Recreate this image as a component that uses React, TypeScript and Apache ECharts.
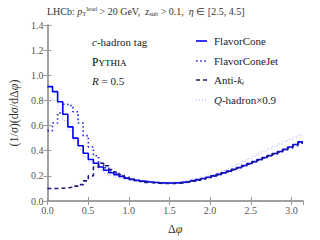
import React, { useEffect, useRef } from "react";
import * as echarts from "echarts";

const NBINS = 50;
const flavorCone = [0.91,0.87,0.79,0.69,0.59,0.50,0.44,0.38,0.33,0.30,0.27,0.245,0.225,0.21,0.195,0.182,0.172,0.164,0.158,0.153,0.149,0.146,0.144,0.143,0.144,0.146,0.150,0.155,0.162,0.170,0.179,0.189,0.200,0.212,0.225,0.238,0.252,0.267,0.282,0.298,0.314,0.330,0.346,0.362,0.378,0.394,0.412,0.43,0.45,0.47];
const flavorConeJet = [0.56,0.62,0.70,0.77,0.76,0.71,0.62,0.52,0.43,0.36,0.30,0.265,0.24,0.22,0.20,0.185,0.174,0.165,0.158,0.152,0.148,0.145,0.143,0.142,0.143,0.145,0.148,0.153,0.160,0.168,0.177,0.187,0.198,0.210,0.222,0.235,0.249,0.264,0.279,0.295,0.311,0.327,0.343,0.359,0.375,0.391,0.408,0.426,0.446,0.466];
const antiKt = [0.10,0.10,0.102,0.105,0.11,0.118,0.13,0.16,0.20,0.27,0.30,0.28,0.25,0.23,0.21,0.19,0.175,0.163,0.155,0.148,0.144,0.141,0.139,0.139,0.14,0.142,0.146,0.151,0.158,0.166,0.175,0.185,0.196,0.208,0.22,0.233,0.247,0.262,0.277,0.293,0.309,0.325,0.341,0.357,0.373,0.389,0.405,0.422,0.44,0.46];
const qHadron = [0.82,0.80,0.73,0.64,0.56,0.48,0.41,0.35,0.31,0.27,0.245,0.22,0.20,0.188,0.177,0.168,0.162,0.157,0.153,0.150,0.150,0.149,0.149,0.150,0.152,0.155,0.159,0.165,0.172,0.180,0.190,0.200,0.212,0.226,0.242,0.260,0.278,0.297,0.316,0.336,0.356,0.376,0.396,0.416,0.436,0.455,0.473,0.49,0.508,0.525];
const xTicks = [0, 0.5, 1.0, 1.5, 2.0, 2.5, 3.0];

const FONT = "Liberation Serif";

function histData(vals: number[]) {
  const w = Math.PI / NBINS;
  const pts: number[][] = vals.map((v, i) => [i * w, v]);
  pts.push([Math.PI, vals[vals.length - 1]]);
  return pts;
}

export default function App() {
  const ref = useRef<HTMLDivElement>(null);
  useEffect(() => {
    if (!ref.current) return;
    const chart = echarts.init(ref.current, undefined, { renderer: "svg" });
    const axisLine = { show: true, lineStyle: { color: "#9a9a9a", width: 1.5 } };
    const tick = { show: true, inside: true, length: 4, lineStyle: { color: "#9a9a9a", width: 1 } };
    const lblStyle = { fontFamily: FONT, fontSize: 10, color: "#555" };
    const series: any[] = [
      { name: "FlavorCone", data: histData(flavorCone), color: "#0000ff", lineStyle: { width: 1.6, type: "solid" } },
      { name: "FlavorConeJet", data: histData(flavorConeJet), color: "#2424e0", lineStyle: { width: 1.6, type: [1.6, 2.6] } },
      { name: "Anti-kt", data: histData(antiKt), color: "#1c1c80", lineStyle: { width: 1.6, type: [4, 3] } },
      { name: "Q-hadron", data: histData(qHadron), color: "#a8a8ff", lineStyle: { width: 1, type: [1, 2] } },
    ].map((s) => ({ ...s, type: "line", step: "end", symbol: "none", showSymbol: false, z: 3 }));
    series.unshift(series.splice(3, 1)[0]);

    const legendRows = [
      { y: 41, color: "#0000ff", type: "solid", w: 1.6, text: "FlavorCone" },
      { y: 61, color: "#2424e0", type: [1.6, 2.6], w: 1.6, text: "FlavorConeJet" },
      { y: 80, color: "#1c1c80", type: [4, 3], w: 1.6, text: "Anti-{i|k}{sub|t}" },
      { y: 100, color: "#a8a8ff", type: [1, 2], w: 1, text: "{i|Q}-hadron×0.9" },
    ];
    const rich = {
      i: { fontFamily: FONT, fontStyle: "italic", fontSize: 11, color: "#222" },
      sub: { fontFamily: FONT, fontStyle: "italic", fontSize: 7, color: "#222", padding: [6, 0, 0, 0] },
    };
    const graphic: any[] = [];
    legendRows.forEach((r) => {
      graphic.push({ type: "line", shape: { x1: 196, y1: r.y, x2: 207, y2: r.y }, style: { stroke: r.color, lineWidth: r.w, lineDash: r.type === "solid" ? null : r.type } });
      graphic.push({ type: "text", x: 214, y: r.y, style: { text: r.text, rich, fontFamily: FONT, fontSize: 11, fill: "#222", verticalAlign: "middle", align: "left" } });
    });
    graphic.push({ type: "text", x: 92, y: 42, style: { text: "{i|c}-hadron tag", rich, fontFamily: FONT, fontSize: 11, fill: "#222", verticalAlign: "middle" } });
    graphic.push({ type: "text", x: 92, y: 62, style: { text: "{b|P}{s|YTHIA}", rich: { b: { fontFamily: FONT, fontSize: 11.5, color: "#222" }, s: { fontFamily: FONT, fontSize: 9, color: "#222", padding: [2, 0, 0, 0] } }, verticalAlign: "middle" } });
    graphic.push({ type: "text", x: 92, y: 81, style: { text: "{i|R} = 0.5", rich, fontFamily: FONT, fontSize: 11, fill: "#222", verticalAlign: "middle" } });
    graphic.push({
      type: "text", x: 47, y: 11,
      style: {
        text: "LHCb: {i|p}{sb|T}{sp|lead} > 20 GeV,  {i|z}{sb|sub} > 0.1,  {i|η} ∈ [2.5, 4.5]",
        rich: {
          i: { fontFamily: FONT, fontStyle: "italic", fontSize: 10, color: "#333" },
          sb: { fontFamily: FONT, fontSize: 6.5, color: "#333", padding: [5, 0, 0, 0] },
          sp: { fontFamily: FONT, fontSize: 6.5, color: "#333", padding: [0, 0, 6, 0] },
        },
        fontFamily: FONT, fontSize: 10, fill: "#333", verticalAlign: "middle",
      },
    });

    const xBase = {
      type: "value", min: 0, max: Math.PI, interval: 0.5,
      axisLine, axisTick: tick, splitLine: { show: false },
    };
    const yBase = {
      type: "value", min: 0, max: 1.4, interval: 0.2,
      axisLine, axisTick: tick, splitLine: { show: false },
    };
    chart.setOption({
      animation: false,
      grid: { left: 47, right: 17, top: 25, bottom: 37 },
      xAxis: [
        {
          ...xBase, position: "bottom",
          axisLabel: { ...lblStyle, margin: 4, showMaxLabel: false, formatter: (v: number) => (xTicks.some((t) => Math.abs(t - v) < 1e-6) ? v.toFixed(1) : "") },
          name: "Δ{i|φ}", nameLocation: "middle", nameGap: 22,
          nameTextStyle: { fontFamily: FONT, fontSize: 12, color: "#333", rich: { i: { fontFamily: FONT, fontStyle: "italic", fontSize: 12, color: "#333" } } },
        },
        { ...xBase, position: "top", axisLabel: { show: false } },
      ],
      yAxis: [
        {
          ...yBase, position: "left",
          axisLabel: { ...lblStyle, margin: 4, formatter: (v: number) => v.toFixed(1) },
          name: "(1/{i|σ})(d{i|σ}/dΔ{i|φ})", nameLocation: "middle", nameGap: 27, nameRotate: 90,
          nameTextStyle: { fontFamily: FONT, fontSize: 12, color: "#333", rich: { i: { fontFamily: FONT, fontStyle: "italic", fontSize: 12, color: "#333" } } },
        },
        { ...yBase, position: "right", axisLabel: { show: false } },
      ],
      series,
      graphic,
    });
    return () => chart.dispose();
  }, []);
  return <div ref={ref} style={{ width: 320, height: 240, position: "absolute", left: 0, top: 0 }} />;
}
